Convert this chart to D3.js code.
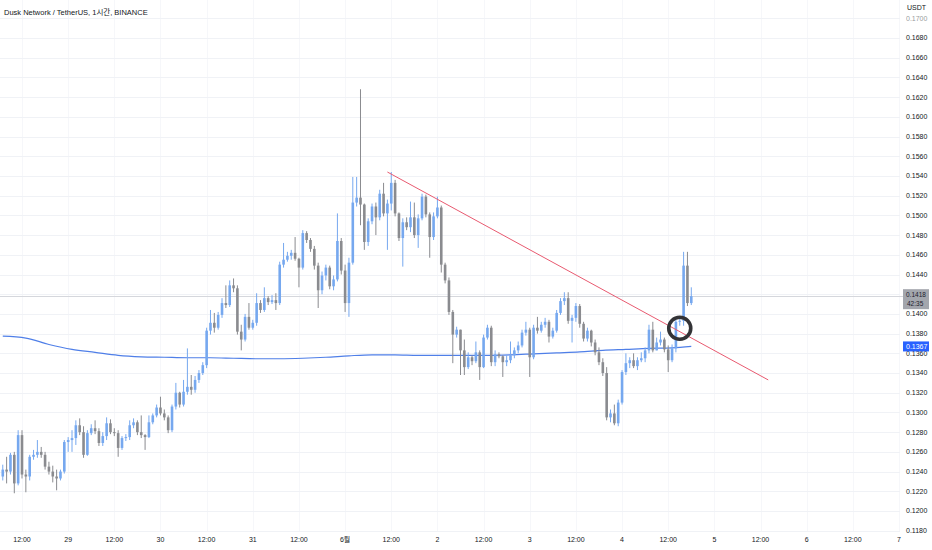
<!DOCTYPE html>
<html>
<head>
<meta charset="utf-8">
<script src="https://cdn.jsdelivr.net/npm/d3@7"></script>
<style>
  body { margin: 0; background: #fff; }
  text { font-family: "Liberation Sans", "Noto Sans CJK KR", sans-serif; }
</style>
</head>
<body>
<div id="chart"></div>
<script>
// DUSK/USDT 1h candles, 28 May 07:00 -> 4 Jun 18:00 (open = previous close)
const firstOpen = 0.1235;
const closes = [
  0.1242,0.1240,0.1257,0.1228,0.1277,0.1237,0.1235,0.1255,0.1257,0.1260,
  0.1257,0.1245,0.1240,0.1235,0.1233,0.1240,0.1270,0.1272,0.1274,0.1287,
  0.1280,0.1257,0.1279,0.1284,0.1281,0.1269,0.1276,0.1289,0.1280,0.1279,
  0.1264,0.1274,0.1275,0.1287,0.1290,0.1280,0.1277,0.1275,0.1290,0.1297,
  0.1305,0.1299,0.1295,0.1282,0.1306,0.1320,0.1308,0.1321,0.1326,0.1323,
  0.1333,0.1340,0.1348,0.1383,0.1391,0.1386,0.1399,0.1411,0.1409,0.1429,
  0.1426,0.1382,0.1374,0.1397,0.1386,0.1391,0.1411,0.1404,0.1416,0.1412,
  0.1414,0.1411,0.1450,0.1455,0.1459,0.1462,0.1456,0.1447,0.1482,0.1475,
  0.1466,0.1449,0.1424,0.1439,0.1447,0.1428,0.1435,0.1474,0.1444,0.1411,
  0.1452,0.1513,0.1518,0.1511,0.1473,0.1494,0.1509,0.1498,0.1522,0.1502,
  0.1512,0.1533,0.1502,0.1477,0.1493,0.1488,0.1498,0.1480,0.1497,0.1519,
  0.1501,0.1478,0.1499,0.1508,0.1450,0.1434,0.1402,0.1379,0.1384,0.1363,
  0.1346,0.1356,0.1352,0.1361,0.1346,0.1376,0.1386,0.1351,0.1359,0.1357,
  0.1351,0.1353,0.1358,0.1363,0.1368,0.1381,0.1384,0.1356,0.1386,0.1383,
  0.1389,0.1392,0.1377,0.1383,0.1401,0.1413,0.1416,0.1393,0.1396,0.1408,
  0.1390,0.1375,0.1383,0.1371,0.1361,0.1351,0.1340,0.1295,0.1299,0.1289,
  0.1310,0.1341,0.1350,0.1353,0.1347,0.1353,0.1355,0.1363,0.1384,0.1363,
  0.1371,0.1374,0.1364,0.1353,0.1365,0.1392,0.1393,0.1449,0.1411,0.1418
];
const highs = [
  0.1247,0.1255,0.1259,0.1260,0.1282,0.1282,0.1242,0.1257,0.1262,0.1272,
  0.1265,0.1260,0.1250,0.1246,0.1242,0.1242,0.1272,0.1275,0.1282,0.1292,
  0.1294,0.1286,0.1282,0.1288,0.1292,0.1284,0.1280,0.1295,0.1293,0.1284,
  0.1282,0.1276,0.1278,0.1292,0.1294,0.1292,0.1297,0.1278,0.1297,0.1299,
  0.1308,0.1316,0.1303,0.1297,0.1308,0.1330,0.1321,0.1333,0.1365,0.1338,
  0.1337,0.1343,0.1351,0.1386,0.1404,0.1401,0.1402,0.1416,0.1429,0.1434,
  0.1436,0.1429,0.1389,0.1400,0.1411,0.1394,0.1421,0.1414,0.1427,0.1418,
  0.1419,0.1421,0.1453,0.1472,0.1463,0.1465,0.1478,0.1457,0.1485,0.1484,
  0.1477,0.1469,0.1452,0.1443,0.1450,0.1449,0.1439,0.1502,0.1477,0.1450,
  0.1457,0.1539,0.1539,0.1628,0.1512,0.1497,0.1512,0.1513,0.1526,0.1533,
  0.1516,0.1544,0.1536,0.1503,0.1497,0.1498,0.1514,0.1513,0.1501,0.1522,
  0.1521,0.1503,0.1503,0.1519,0.1510,0.1452,0.1437,0.1404,0.1387,0.1384,
  0.1374,0.1361,0.1358,0.1372,0.1363,0.1379,0.1389,0.1388,0.1363,0.1361,
  0.1358,0.1358,0.1372,0.1366,0.1372,0.1384,0.1392,0.1386,0.1389,0.1397,
  0.1392,0.1396,0.1394,0.1386,0.1404,0.1416,0.1422,0.1422,0.1399,0.1411,
  0.1410,0.1392,0.1386,0.1384,0.1374,0.1366,0.1355,0.1346,0.1303,0.1308,
  0.1313,0.1343,0.1360,0.1356,0.1360,0.1356,0.1361,0.1366,0.1389,0.1392,
  0.1376,0.1382,0.1376,0.1368,0.1369,0.1396,0.1397,0.1463,0.1463,0.1427
];
const lows = [
  0.1231,0.1228,0.1237,0.1218,0.1226,0.1233,0.1219,0.1231,0.1252,0.1254,
  0.1254,0.1242,0.1237,0.1229,0.1221,0.1231,0.1238,0.1260,0.1260,0.1267,
  0.1277,0.1254,0.1256,0.1277,0.1278,0.1266,0.1266,0.1272,0.1278,0.1276,
  0.1255,0.1262,0.1271,0.1272,0.1284,0.1277,0.1274,0.1262,0.1274,0.1288,
  0.1295,0.1297,0.1292,0.1279,0.1280,0.1303,0.1305,0.1306,0.1318,0.1318,
  0.1320,0.1330,0.1338,0.1345,0.1379,0.1381,0.1384,0.1396,0.1406,0.1407,
  0.1422,0.1379,0.1363,0.1372,0.1384,0.1384,0.1388,0.1401,0.1402,0.1409,
  0.1410,0.1404,0.1409,0.1447,0.1453,0.1455,0.1454,0.1427,0.1445,0.1472,
  0.1463,0.1445,0.1406,0.1420,0.1434,0.1425,0.1424,0.1433,0.1440,0.1402,
  0.1397,0.1450,0.1509,0.1490,0.1465,0.1469,0.1491,0.1480,0.1495,0.1499,
  0.1465,0.1505,0.1499,0.1474,0.1448,0.1485,0.1483,0.1477,0.1467,0.1495,
  0.1498,0.1457,0.1475,0.1497,0.1442,0.1431,0.1399,0.1350,0.1376,0.1338,
  0.1338,0.1344,0.1348,0.1350,0.1333,0.1345,0.1374,0.1347,0.1347,0.1355,
  0.1336,0.1347,0.1350,0.1355,0.1360,0.1366,0.1378,0.1336,0.1354,0.1380,
  0.1381,0.1386,0.1371,0.1375,0.1381,0.1399,0.1409,0.1390,0.1371,0.1392,
  0.1386,0.1372,0.1372,0.1367,0.1358,0.1348,0.1337,0.1292,0.1290,0.1287,
  0.1286,0.1308,0.1338,0.1345,0.1345,0.1343,0.1351,0.1351,0.1360,0.1361,
  0.1363,0.1368,0.1361,0.1341,0.1351,0.1361,0.1388,0.1388,0.1408,0.1409
];

// moving average, read every 6th candle
const maIndex = [0,6,12,18,24,30,36,42,48,54,60,66,72,78,84,90,96,102,108,114,120,126,132,138,144,150,156,162,168,174,179];
const maValues = [
  0.13775,0.13755,0.1369,0.1364,0.1361,0.1358,0.13565,0.1356,0.13555,0.13555,
  0.1355,0.13545,0.13545,0.1355,0.1356,0.13575,0.13585,0.13585,0.1358,0.1358,
  0.1358,0.1358,0.13585,0.13595,0.13605,0.13615,0.1363,0.1364,0.1365,0.13655,0.1367
];

// drawn trend line and circle marker
const trendStart = { t: new Date(2023, 5, 1, 11), p: 0.1544 };
const trendEnd = { t: new Date(2023, 5, 5, 14), p: 0.1333 };
const markCircle = { t: new Date(2023, 5, 4, 15), p: 0.13855 };

const priceTicks = d3.range(0, 27).map(k => 0.118 + k * 0.002);
const timeTickLabels = ["12:00","29","12:00","30","12:00","31","12:00","6월","12:00","2",
                        "12:00","3","12:00","4","12:00","5","12:00","6","12:00","7"];

const lastPrice = 0.1418;
const lastCountdown = "42:35";
const title = "Dusk Network / TetherUS, 1시간, BINANCE";

const width = 932;
const height = 550;
const plotRight = 900;
const upColor = "#76a8ef";
const downColor = "#8a8b8f";

const candles = closes.map((c, i) => ({
  t: new Date(2023, 4, 28, 7 + i),
  o: i === 0 ? firstOpen : closes[i - 1],
  h: highs[i],
  l: lows[i],
  c: c
}));

const x = d3.scaleTime()
  .domain([new Date(2023, 4, 28, 12), new Date(2023, 5, 7, 0)])
  .range([22, 899]);
const y = d3.scaleLinear()
  .domain([0.118, 0.170])
  .range([530.7, 18.3]);

const svg = d3.select("#chart").append("svg")
  .attr("width", width).attr("height", height)
  .style("display", "block");

svg.append("rect").attr("width", width).attr("height", height).attr("fill", "#fff");

// grid
const timeTicks = d3.timeHour.every(12).range(new Date(2023, 4, 28, 12), new Date(2023, 5, 7, 1));
svg.append("g").selectAll("line").data(timeTicks).enter().append("line")
  .attr("x1", d => Math.round(x(d)) + 0.5).attr("x2", d => Math.round(x(d)) + 0.5)
  .attr("y1", 0).attr("y2", 532)
  .attr("stroke", "#f6f7fa");
svg.append("g").selectAll("line").data(priceTicks).enter().append("line")
  .attr("x1", 0).attr("x2", plotRight)
  .attr("y1", d => Math.round(y(d)) + 0.5).attr("y2", d => Math.round(y(d)) + 0.5)
  .attr("stroke", "#f0f2f6");

// last price line
svg.append("line")
  .attr("x1", 0).attr("x2", 903)
  .attr("y1", Math.round(y(lastPrice)) + 0.5).attr("y2", Math.round(y(lastPrice)) + 0.5)
  .attr("stroke", "#d5d7dc");

// moving average
const maLine = d3.line()
  .x(d => x(candles[d.i].t))
  .y(d => y(d.v))
  .curve(d3.curveMonotoneX);
svg.append("path")
  .datum(maIndex.map((i, k) => ({ i: i, v: maValues[k] })))
  .attr("d", maLine)
  .attr("fill", "none")
  .attr("stroke", "#4f7fe8")
  .attr("stroke-width", 1.2);

// candles
const bodyW = 2.6;
const g = svg.append("g");
const cg = g.selectAll("g").data(candles).enter().append("g");
cg.append("line")
  .attr("x1", d => x(d.t)).attr("x2", d => x(d.t))
  .attr("y1", d => y(d.h)).attr("y2", d => y(d.l))
  .attr("stroke", d => d.c >= d.o ? upColor : downColor)
  .attr("stroke-width", 1);
cg.append("rect")
  .attr("x", d => x(d.t) - bodyW / 2)
  .attr("y", d => y(Math.max(d.o, d.c)))
  .attr("width", bodyW)
  .attr("height", d => Math.max(1, Math.abs(y(d.o) - y(d.c))))
  .attr("fill", d => d.c >= d.o ? upColor : downColor);

// trend line
svg.append("line")
  .attr("x1", x(trendStart.t)).attr("y1", y(trendStart.p))
  .attr("x2", x(trendEnd.t)).attr("y2", y(trendEnd.p))
  .attr("stroke", "#e85a70")
  .attr("stroke-width", 1);

// circle
svg.append("circle")
  .attr("cx", x(markCircle.t)).attr("cy", y(markCircle.p))
  .attr("r", 11)
  .attr("fill", "none")
  .attr("stroke", "#333336")
  .attr("stroke-width", 3.6);

// price axis
const axisG = svg.append("g");
axisG.selectAll("text").data(priceTicks.filter(p => y(p) < 534)).enter().append("text")
  .attr("x", 906)
  .attr("y", d => y(d))
  .attr("dy", "0.35em")
  .attr("font-size", 7)
  .attr("fill", "#131722")
  .attr("opacity", d => d > 0.1695 ? 0.45 : 1)
  .text(d => d3.format(".4f")(d));

svg.append("text")
  .attr("x", 907).attr("y", 8).attr("dy", "0.35em")
  .attr("font-size", 7).attr("fill", "#131722")
  .text("USDT");

// last price label (price + countdown)
const ly = y(lastPrice);
svg.append("rect")
  .attr("x", 903).attr("y", ly - 7).attr("width", 26).attr("height", 20)
  .attr("fill", "#a3a6ad");
svg.append("text")
  .attr("x", 906).attr("y", ly - 1.5).attr("dy", "0.35em")
  .attr("font-size", 6.5).attr("fill", "#1e222d")
  .text(d3.format(".4f")(lastPrice));
svg.append("text")
  .attr("x", 907).attr("y", ly + 7.5).attr("dy", "0.35em")
  .attr("font-size", 6.5).attr("fill", "#1e222d")
  .text(lastCountdown);

// MA label
const maLast = maValues[maValues.length - 1];
const my = y(maLast);
svg.append("rect")
  .attr("x", 903).attr("y", my - 5).attr("width", 26).attr("height", 10)
  .attr("fill", "#2962ff");
svg.append("text")
  .attr("x", 906).attr("y", my).attr("dy", "0.35em")
  .attr("font-size", 7).attr("fill", "#fff")
  .text(d3.format(".4f")(maLast));

// time axis
svg.append("g").selectAll("text").data(timeTicks).enter().append("text")
  .attr("x", d => x(d))
  .attr("y", 540)
  .attr("dy", "0.35em")
  .attr("text-anchor", "middle")
  .attr("font-size", 7)
  .attr("fill", "#131722")
  .text((d, i) => timeTickLabels[i]);

// title
svg.append("text")
  .attr("x", 4).attr("y", 12).attr("dy", "0.35em")
  .attr("font-size", 7.5).attr("fill", "#131722")
  .text(title);
</script>
</body>
</html>
